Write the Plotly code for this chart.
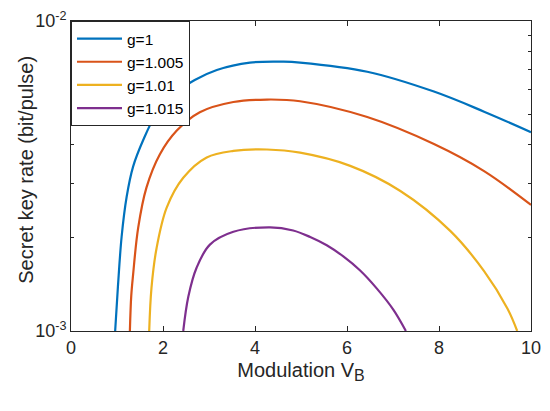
import plotly.graph_objects as go


# -------------------------
# DATA (key rate in units of 1e-3 bit/pulse)
# -------------------------
labels = ["g=1", "g=1.005", "g=1.01", "g=1.015"]
colors = ["#0072BD", "#D95319", "#EDB120", "#7E2F8E"]

vb_g1 = [0.96, 1.02, 1.10, 1.21, 1.35, 1.57, 1.82, 2.20, 2.69, 3.17, 3.89, 4.62, 4.98, 6.44, 7.89, 8.98, 10.0]
rate_g1 = [1.0, 1.39, 2.01, 2.71, 3.39, 4.13, 4.91, 5.75, 6.45, 6.95, 7.34, 7.39, 7.34, 6.86, 5.92, 5.10, 4.38]

vb_g1005 = [1.28, 1.31, 1.35, 1.46, 1.64, 1.93, 2.30, 2.80, 3.53, 4.26, 4.98, 6.44, 7.89, 8.98, 10.0]
rate_g1005 = [1.0, 1.30, 1.52, 2.15, 2.90, 3.71, 4.43, 5.08, 5.48, 5.58, 5.51, 4.90, 4.01, 3.28, 2.55]

vb_g101 = [1.70, 1.75, 1.86, 2.08, 2.44, 2.95, 3.53, 4.26, 4.98, 6.07, 7.16, 8.25, 8.98, 9.49, 9.70]
rate_g101 = [1.0, 1.38, 1.85, 2.50, 3.12, 3.63, 3.81, 3.85, 3.76, 3.41, 2.83, 2.10, 1.56, 1.18, 1.0]

vb_g1015 = [2.44, 2.55, 2.73, 3.02, 3.53, 4.33, 4.83, 5.20, 5.56, 5.92, 6.28, 6.65, 7.01, 7.28]
rate_g1015 = [1.0, 1.29, 1.60, 1.90, 2.09, 2.16, 2.11, 2.01, 1.89, 1.74, 1.57, 1.37, 1.17, 1.0]

x_ticks = [0, 2, 4, 6, 8, 10]
y_ticks = [1e-3, 1e-2]
y_ticktext = ["10<sup>-3</sup>", "10<sup>-2</sup>"]
y_minor = [k * 1e-3 for k in range(2, 10)]

series = [
    (vb_g1, rate_g1),
    (vb_g1005, rate_g1005),
    (vb_g101, rate_g101),
    (vb_g1015, rate_g1015),
]


# -------------------------
# FIGURE
# -------------------------
fig = go.Figure()

for (vb, rate), name, col in zip(series, labels, colors):
    fig.add_trace(go.Scatter(
        x=vb,
        y=[r * 1e-3 for r in rate],
        mode="lines",
        name=name,
        line=dict(color=col, width=2.2, shape="spline", smoothing=1.0),
    ))

base_font = "Liberation Sans, Arial, sans-serif"
ink = "#262626"

fig.update_layout(
    width=550,
    height=411,
    margin=dict(l=71, r=19, t=21, b=80),
    paper_bgcolor="white",
    plot_bgcolor="white",
    font=dict(family=base_font, size=18, color=ink),
    legend=dict(
        x=0, y=1,
        xanchor="left", yanchor="top",
        bgcolor="white",
        bordercolor=ink,
        borderwidth=1,
        font=dict(family=base_font, size=15.5, color="#000000"),
        itemwidth=45,
        tracegroupgap=0,
    ),
)

# y title as a rotated note so it can sit where the reference puts it
fig.add_annotation(
    text="Secret key rate (bit/pulse)",
    xref="paper", yref="paper",
    x=-0.098, y=0.52,
    xanchor="center", yanchor="middle",
    textangle=-90,
    showarrow=False,
    font=dict(family=base_font, size=20, color=ink),
)

fig.update_xaxes(
    range=[0, 10],
    tickvals=x_ticks,
    tickfont=dict(size=18),
    ticks="inside",
    ticklen=5,
    tickcolor=ink,
    showgrid=False,
    zeroline=False,
    showline=True,
    linecolor=ink,
    linewidth=1,
    mirror="allticks",
    automargin=False,
    title=dict(
        text='Modulation V<sub><span style="font-size:16px">B</span></sub>',
        font=dict(size=20),
        standoff=6,
    ),
)

fig.update_yaxes(
    type="log",
    range=[-3, -2],
    tickvals=y_ticks,
    ticktext=y_ticktext,
    tickfont=dict(size=18),
    ticks="inside",
    ticklen=5,
    tickcolor=ink,
    minor=dict(tickvals=y_minor, ticks="inside", ticklen=3, tickcolor=ink, showgrid=False),
    showgrid=False,
    zeroline=False,
    showline=True,
    linecolor=ink,
    linewidth=1,
    mirror="allticks",
    automargin=False,
)

# drop the browser's default 8px page margin so the figure fills the window
fig.write_html(
    "out.html",
    config={"displayModeBar": False},
    post_script="document.body.style.margin='0';",
)
